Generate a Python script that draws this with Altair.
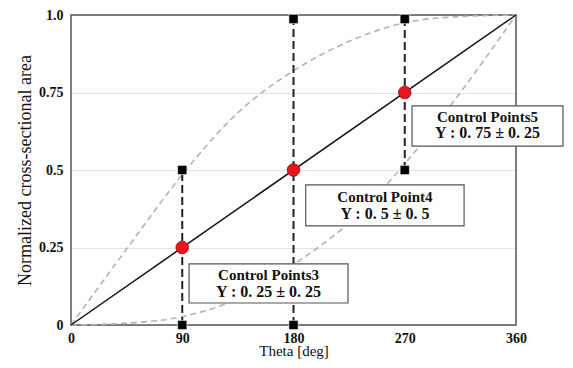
import altair as alt
import pandas as pd

# ---- data ----
theta_ticks = [0, 90, 180, 270, 360]
y_ticks = [0, 0.25, 0.5, 0.75, 1.0]
y_tick_labels = ["0", "0.25", "0.5", "0.75", "1.0"]

curve_theta = [0, 45, 90, 135, 180, 225, 270, 315, 360]
upper_curve = [0, 0.245, 0.485, 0.685, 0.82, 0.915, 0.975, 0.995, 1.0]
lower_curve = [0, 0.006, 0.027, 0.085, 0.195, 0.33, 0.52, 0.75, 1.0]

linear_theta = [0, 360]
linear_y = [0, 1]

cp_theta = [90, 180, 270]
cp_y = [0.25, 0.5, 0.75]
cp_low = [0, 0, 0.5]
cp_high = [0.5, 0.987, 0.987]

box_title = ["Control Points3", "Control Point4", "Control Points5"]
box_value = ["Y : 0. 25 ± 0. 25", "Y : 0. 5 ± 0. 5", "Y : 0. 75 ± 0. 25"]
box_x1 = [95.5, 189.9, 275.9]
box_x2 = [224.1, 318.0, 398.0]
box_y1 = [0.071, 0.320, 0.577]
box_y2 = [0.197, 0.452, 0.707]
title_y = [0.160, 0.414, 0.671]
value_y = [0.107, 0.358, 0.618]

SERIF = "Liberation Serif"

# ---- tables ----
curves = pd.DataFrame({
    "theta": curve_theta * 2,
    "y": upper_curve + lower_curve,
    "curve": ["upper"] * len(curve_theta) + ["lower"] * len(curve_theta),
})
linear = pd.DataFrame({"theta": linear_theta, "y": linear_y})
cps = pd.DataFrame({"theta": cp_theta, "y": cp_y, "low": cp_low, "high": cp_high})
squares = pd.DataFrame({"theta": cp_theta * 2, "y": cp_low + cp_high})
frame = pd.DataFrame({"x1": [theta_ticks[0]], "x2": [theta_ticks[-1]],
                      "y1": [y_ticks[0]], "y2": [y_ticks[-1]]})
boxes = pd.DataFrame({
    "x1": box_x1, "x2": box_x2, "y1": box_y1, "y2": box_y2,
    "cx": [(a + b) / 2 for a, b in zip(box_x1, box_x2)],
    "ty": title_y, "vy": value_y, "title": box_title, "value": box_value,
})

label_expr = " : ".join(
    f"datum.value === {v} ? '{t}'" for v, t in zip(y_ticks, y_tick_labels)
) + " : datum.label"

xscale = alt.Scale(domain=[theta_ticks[0], theta_ticks[-1]], nice=False)
yscale = alt.Scale(domain=[y_ticks[0], y_ticks[-1]], nice=False)

x_axis = alt.Axis(values=theta_ticks, title="Theta [deg]", grid=False, ticks=False,
                  domain=False, labelFont=SERIF, labelFontWeight="bold", labelFontSize=14,
                  labelPadding=6, labelFlush=False, labelColor="#111",
                  titleFont=SERIF, titleFontWeight="normal", titleFontSize=15,
                  titleBaseline="alphabetic", titleY=30, titleColor="#111")
y_axis = alt.Axis(values=y_ticks, title="Normalized cross-sectional area", grid=True,
                  gridColor="#e2e2e2", gridWidth=1, ticks=False, domain=False,
                  labelFont=SERIF, labelFontWeight="bold", labelFontSize=14,
                  labelPadding=8, labelColor="#111", labelExpr=label_expr,
                  titleFont=SERIF, titleFontWeight="normal", titleFontSize=18,
                  titlePadding=4, titleColor="#111")

base_axes = alt.Chart(linear).mark_line(opacity=0).encode(
    x=alt.X("theta:Q", scale=xscale, axis=x_axis),
    y=alt.Y("y:Q", scale=yscale, axis=y_axis),
)

frame_layer = alt.Chart(frame).mark_rect(fillOpacity=0, stroke="#555", strokeWidth=1.5).encode(
    x="x1:Q", x2="x2:Q", y="y1:Q", y2="y2:Q")

curve_layer = alt.Chart(curves).mark_line(
    color="#b3b3b3", strokeWidth=1.6, strokeDash=[6, 4], interpolate="monotone"
).encode(x="theta:Q", y="y:Q", detail="curve:N")

linear_layer = alt.Chart(linear).mark_line(color="#111", strokeWidth=1.5).encode(
    x="theta:Q", y="y:Q")

rule_layer = alt.Chart(cps).mark_rule(color="#222", strokeWidth=2, strokeDash=[8, 4]).encode(
    x="theta:Q", y="low:Q", y2="high:Q")

square_layer = alt.Chart(squares).mark_square(
    size=85, color="#000", opacity=1, stroke="#fff", strokeWidth=0.6
).encode(x="theta:Q", y="y:Q")

circle_layer = alt.Chart(cps).mark_circle(
    size=160, color="#e8151b", opacity=1, stroke="#9a0a0a", strokeWidth=0.8
).encode(x="theta:Q", y="y:Q")

box_layer = alt.Chart(boxes).mark_rect(fill="white", stroke="#555", strokeWidth=1.2).encode(
    x="x1:Q", x2="x2:Q", y="y1:Q", y2="y2:Q")

title_layer = alt.Chart(boxes).mark_text(
    font=SERIF, fontWeight="bold", fontSize=15, color="#111", baseline="middle"
).encode(x="cx:Q", y="ty:Q", text="title:N")

value_layer = alt.Chart(boxes).mark_text(
    font=SERIF, fontWeight="bold", fontSize=16, color="#111", baseline="middle"
).encode(x="cx:Q", y="vy:Q", text="value:N")

chart = alt.layer(
    base_axes, frame_layer, curve_layer, linear_layer, rule_layer,
    square_layer, circle_layer, box_layer, title_layer, value_layer
).properties(
    width=445, height=310,
    autosize=alt.AutoSizeParams(type="none"),
    padding={"left": 63, "top": 7, "right": 49, "bottom": 35},
    background="white",
).configure_view(stroke=None)

chart.save("out.html", embed_options={"renderer": "svg", "actions": False})
